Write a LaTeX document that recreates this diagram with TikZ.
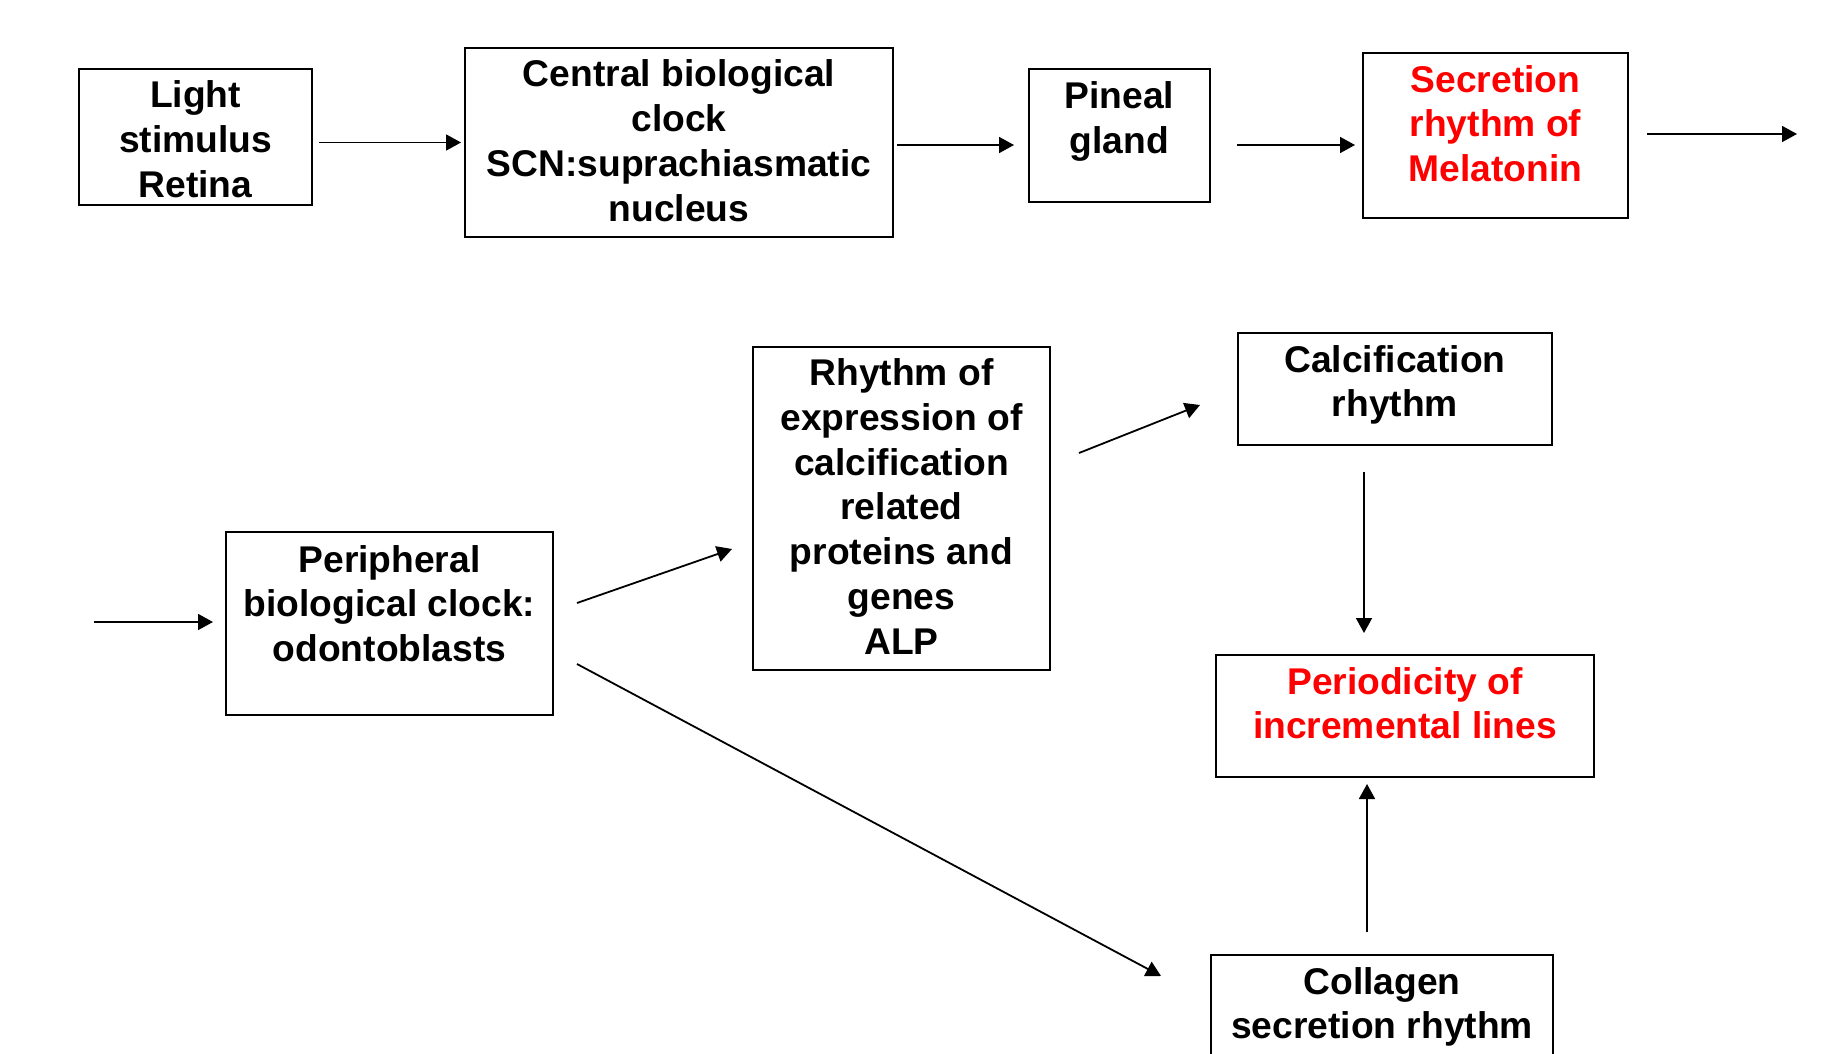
\documentclass[tikz,border=0pt]{standalone}
\usepackage{fontspec}
\setmainfont{Liberation Sans}
\usepackage{xcolor}
\usetikzlibrary{arrows.meta}

\begin{document}
\begin{tikzpicture}[x=0.5pt, y=-0.5pt,
		box/.style={draw, line width=1pt, align=center, inner sep=0pt, font=\fontsize{18.6}{22.4}\selectfont\bfseries},
		arr/.style={line width=0.9pt, -{Triangle[length=7.5pt, width=8pt]}}]
			\useasboundingbox (0,0) rectangle (1837,1054);
			% first row
			\node[box, minimum width=116.5pt, minimum height=68pt] (light) at (195.5,137) {\rule{0pt}{15.5pt}Light\\stimulus\\Retina};
			\node[box, minimum width=214pt, minimum height=94.5pt] (central) at (679,142.5) {Central biological\\clock\\SCN:suprachiasmatic\\nucleus\rule[-2pt]{0pt}{0pt}};
			\node[box, minimum width=90.5pt, minimum height=66.5pt] (pineal) at (1119.5,135.5) {Pineal\\gland\rule[-18pt]{0pt}{0pt}};
			\node[box, minimum width=132.5pt, minimum height=82.5pt, text=red] (secretion) at (1495.5,135.5) {Secretion\\rhythm of\\Melatonin\rule[-12pt]{0pt}{0pt}};
			\coordinate (out) at (1797,134);
			% second row
			\coordinate (in) at (94,622);
			\node[box, minimum width=163.5pt, minimum height=91.5pt] (periph) at (389.5,623.5) {Peripheral\\biological clock:\\odontoblasts\rule[-20pt]{0pt}{0pt}};
			\node[box, minimum width=148.5pt, minimum height=161.5pt] (rhythm) at (901.5,508.5) {Rhythm of\\expression of\\calcification\\related\\proteins and\\genes\\ALP\rule[-2pt]{0pt}{0pt}};
			\node[box, minimum width=157pt, minimum height=56pt] (calcif) at (1395,389) {Calcification\\rhythm\rule[-8pt]{0pt}{0pt}};
			\node[box, minimum width=189pt, minimum height=61pt, text=red] (period) at (1405,716) {Periodicity of\\incremental lines\rule[-13pt]{0pt}{0pt}};
			\node[box, minimum width=171pt, minimum height=61pt] (collagen) at (1382,1016) {Collagen\\secretion rhythm\rule[-13pt]{0pt}{0pt}};
			% arrows
			\draw[arr, shorten <=3pt, shorten >=1.5pt] (light.east |- central.west) -- (central.west);
			\draw[arr, shorten <=1.5pt, shorten >=7pt] ([yshift=-1.25pt]central.east) -- ([yshift=-1.25pt]central.east -| pineal.west);
			\draw[arr, shorten <=13pt, shorten >=3.5pt] ([yshift=-4.75pt]pineal.east) -- ([yshift=-4.75pt]secretion.west);
			\draw[arr, shorten <=9pt] (secretion.east |- out) -- (out);
			\draw[arr, shorten >=6pt] (in) -- (in -| periph.west);
			\draw[arr] ([shift={(23,-20.5)}]periph.east) -- ([shift={(-20,40.5)}]rhythm.west);
			\draw[arr] ([shift={(28,-55.5)}]rhythm.east) -- ([shift={(-37,16)}]calcif.west);
			\draw[arr] ([shift={(-31,26)}]calcif.south) -- ([shift={(-41,-21)}]period.north);
			\draw[arr] ([shift={(-15,-22)}]collagen.north) -- ([shift={(-38,6)}]period.south);
			\draw[arr] ([shift={(23,40.5)}]periph.east) -- ([shift={(-49,-40)}]collagen.west);
		\end{tikzpicture}
\end{document}
